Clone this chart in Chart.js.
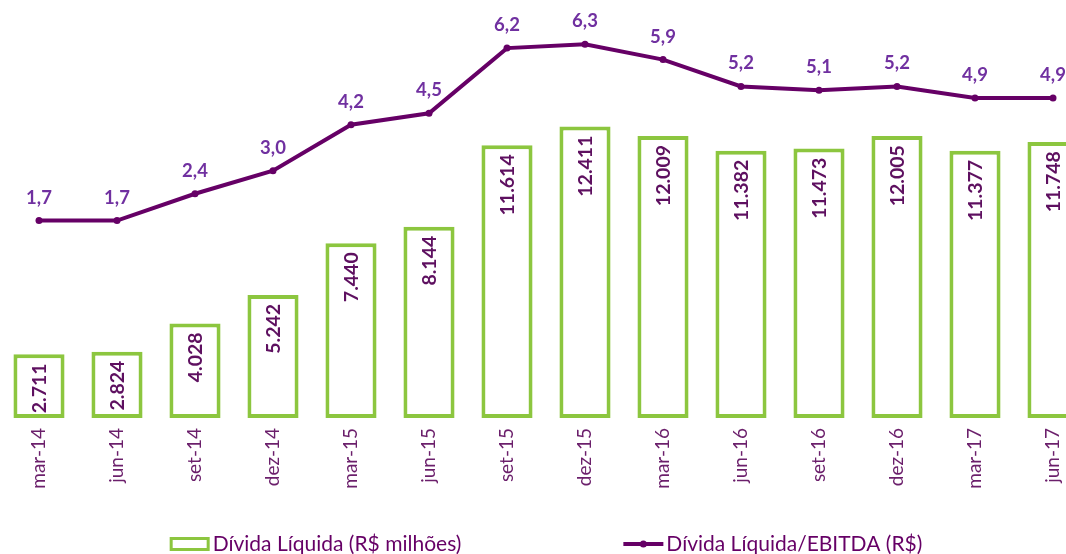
<!DOCTYPE html>
<html>
<head>
<meta charset="utf-8">
<script src="https://cdn.jsdelivr.net/npm/chart.js@4"></script>
<style>
  html, body { margin: 0; padding: 0; background: #fff; overflow: hidden; }
  #divChart { display: block; }
</style>
</head>
<body>
<canvas id="divChart" width="1092" height="554"></canvas>
<script>
const quarters = ['mar-14', 'jun-14', 'set-14', 'dez-14', 'mar-15', 'jun-15', 'set-15',
  'dez-15', 'mar-16', 'jun-16', 'set-16', 'dez-16', 'mar-17', 'jun-17'];
const netDebt = [2711, 2824, 4028, 5242, 7440, 8144, 11614, 12411, 12009, 11382, 11473, 12005, 11377, 11748];
const debtEbitda = [1.7, 1.7, 2.4, 3.0, 4.2, 4.5, 6.2, 6.3, 5.9, 5.2, 5.1, 5.2, 4.9, 4.9];
const seriesNames = ['Dívida Líquida (R$ milhões)', 'Dívida Líquida/EBITDA (R$)'];

const GREEN = '#8cc63f';
const PURPLE = '#660066';
const LABEL_PURPLE = '#7030a0';
const FONT = 'Lato, "Open Sans", sans-serif';

const ptBR = new Intl.NumberFormat('pt-BR', { minimumFractionDigits: 0, maximumFractionDigits: 0 });
const ptBR1 = new Intl.NumberFormat('pt-BR', { minimumFractionDigits: 1, maximumFractionDigits: 1 });

// value labels on bars and line points
const valueLabels = {
  id: 'valueLabels',
  afterDatasetsDraw(chart) {
    const ctx = chart.ctx;
    ctx.save();
    // dataset 1 = bars
    chart.getDatasetMeta(1).data.forEach((bar, i) => {
      ctx.save();
      ctx.translate(bar.x + 1, bar.y + 9);
      ctx.rotate(-Math.PI / 2);
      ctx.font = 'bold 19.5px ' + FONT;
      ctx.fillStyle = '#5e1060';
      ctx.textAlign = 'right';
      ctx.textBaseline = 'middle';
      ctx.fillText(ptBR.format(netDebt[i]), 0, 0);
      ctx.restore();
    });
    // dataset 0 = line
    chart.getDatasetMeta(0).data.forEach((pt, i) => {
      ctx.font = 'bold 18.5px ' + FONT;
      ctx.fillStyle = LABEL_PURPLE;
      ctx.textAlign = 'center';
      ctx.textBaseline = 'middle';
      ctx.fillText(ptBR1.format(debtEbitda[i]), pt.x, pt.y - 23);
    });
    ctx.restore();
  }
};

// legend drawn at the bottom, spaced like the original
const bottomLegend = {
  id: 'bottomLegend',
  afterDraw(chart) {
    const ctx = chart.ctx;
    ctx.save();
    ctx.font = '21px ' + FONT;
    const boxW = 40, gapText = 3, gapItems = 162;
    const w1 = boxW + gapText + ctx.measureText(seriesNames[0]).width;
    const w2 = boxW + gapText + ctx.measureText(seriesNames[1]).width;
    let x = (chart.width - (w1 + gapItems + w2)) / 2;
    const y = 544;
    // bar item
    ctx.strokeStyle = GREEN;
    ctx.lineWidth = 3;
    ctx.fillStyle = '#fff';
    ctx.fillRect(x + 1.5, y - 5.5, boxW - 3, 11);
    ctx.strokeRect(x + 1.5, y - 5.5, boxW - 3, 11);
    ctx.fillStyle = PURPLE;
    ctx.textBaseline = 'middle';
    ctx.fillText(seriesNames[0], x + boxW + gapText, y);
    // line item
    x += w1 + gapItems;
    ctx.strokeStyle = PURPLE;
    ctx.lineWidth = 4;
    ctx.beginPath();
    ctx.moveTo(x, y);
    ctx.lineTo(x + boxW, y);
    ctx.stroke();
    ctx.beginPath();
    ctx.arc(x + boxW / 2, y, 3.5, 0, Math.PI * 2);
    ctx.fillStyle = PURPLE;
    ctx.fill();
    ctx.fillText(seriesNames[1], x + boxW + gapText, y);
    ctx.restore();
  }
};

new Chart(document.getElementById('divChart').getContext('2d'), {
  data: {
    labels: quarters,
    datasets: [{
      type: 'line',
      label: seriesNames[1],
      data: debtEbitda,
      yAxisID: 'yRatio',
      borderColor: PURPLE,
      backgroundColor: PURPLE,
      borderWidth: 4,
      pointRadius: 3.5,
      pointBorderWidth: 0,
      pointBackgroundColor: PURPLE,
      tension: 0,
      order: 0,
      clip: false
    }, {
      type: 'bar',
      label: seriesNames[0],
      data: netDebt,
      yAxisID: 'yDebt',
      backgroundColor: '#ffffff',
      borderColor: GREEN,
      borderWidth: 4,
      borderSkipped: false,
      categoryPercentage: 1,
      barPercentage: 0.655,
      order: 1
    }]
  },
  options: {
    responsive: false,
    animation: false,
    layout: { autoPadding: false, padding: { top: 0, left: 0, right: 0, bottom: 56 } },
    plugins: {
      legend: { display: false },
      tooltip: { enabled: false }
    },
    scales: {
      x: {
        grid: { display: false, drawTicks: false },
        border: { display: false },
        ticks: {
          minRotation: 90,
          maxRotation: 90,
          padding: 10,
          color: '#6b1f6b',
          font: { family: FONT, size: 19 }
        },
        afterFit(scale) { scale.height = 80; }
      },
      yDebt: {
        display: false,
        min: 0,
        max: 17800
      },
      yRatio: {
        display: false,
        min: -3.45,
        max: 7.455
      }
    }
  },
  plugins: [valueLabels, bottomLegend]
});
</script>
</body>
</html>
